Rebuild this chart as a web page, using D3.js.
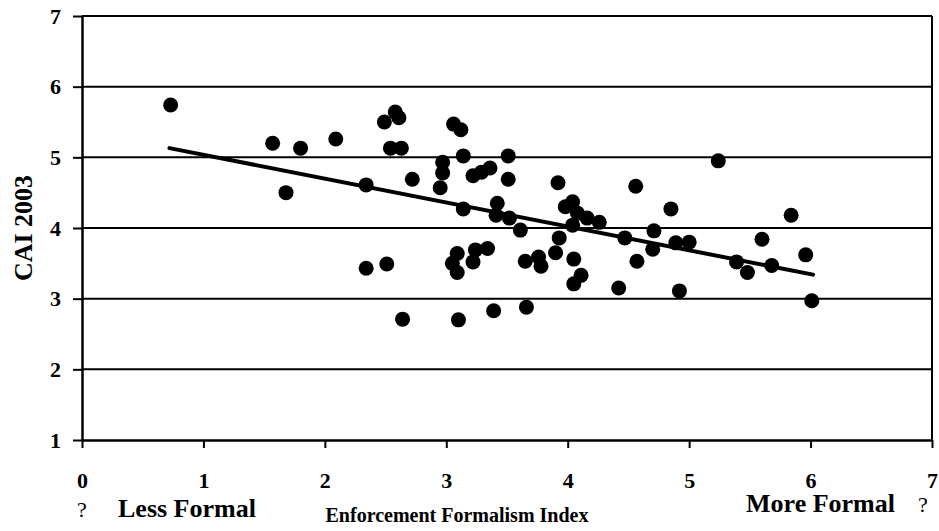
<!DOCTYPE html>
<html lang="en">
<head>
    <meta charset="UTF-8">
    <title>CAI 2003 vs Enforcement Formalism Index</title>
    <script src="https://d3js.org/d3.v7.min.js"></script>
    <style>
        body { margin: 0; background: white; }
        svg text {
            font-family: "Liberation Serif", "Times New Roman", serif;
            font-weight: bold;
            fill: black;
        }
        .tick-label { font-size: 22px; }
        .axis-title { font-size: 20px; }
        .end-label { font-size: 26px; }
        .y-title { font-size: 26px; }
        .arrow { font-weight: normal !important; font-size: 22px; }
    </style>
</head>
<body>
<svg width="939" height="531"></svg>
<script>
    // Enforcement Formalism Index (x) and CAI 2003 (y)
    const formalism = [
        0.73, 1.57, 1.68, 1.80, 2.09, 2.34, 2.34, 2.49, 2.51, 2.54,
        2.58, 2.61, 2.63, 2.64, 2.72, 2.95, 2.97, 2.97, 3.06, 3.12,
        3.05, 3.09, 3.09, 3.10, 3.14, 3.14, 3.22, 3.24, 3.22, 3.29,
        3.36, 3.34, 3.39, 3.41, 3.42, 3.51, 3.51, 3.52, 3.61, 3.65,
        3.66, 3.76, 3.78, 3.90, 3.92, 3.93, 3.98, 4.04, 4.04, 4.05,
        4.05, 4.08, 4.11, 4.16, 4.26, 4.42, 4.47, 4.56, 4.57, 4.70,
        4.71, 4.85, 4.89, 4.92, 5.00, 5.24, 5.39, 5.48, 5.60, 5.68,
        5.84, 5.96, 6.01
    ];
    const cai = [
        5.74, 5.20, 4.50, 5.13, 5.26, 4.61, 3.43, 5.50, 3.49, 5.13,
        5.64, 5.56, 5.13, 2.71, 4.69, 4.57, 4.93, 4.78, 5.47, 5.39,
        3.50, 3.64, 3.37, 2.70, 5.02, 4.27, 4.74, 3.69, 3.52, 4.79,
        4.85, 3.71, 2.83, 4.18, 4.35, 5.02, 4.69, 4.14, 3.97, 3.53,
        2.88, 3.59, 3.46, 3.65, 4.64, 3.86, 4.30, 4.37, 4.04, 3.56,
        3.21, 4.21, 3.33, 4.14, 4.08, 3.15, 3.86, 4.59, 3.53, 3.70,
        3.96, 4.27, 3.79, 3.11, 3.80, 4.95, 3.52, 3.37, 3.84, 3.47,
        4.18, 3.62, 2.97
    ];
    // fitted trend line end points
    const trendX = [0.72, 6.02];
    const trendY = [5.13, 3.34];

    const xTicks = [0, 1, 2, 3, 4, 5, 6, 7];
    const yTicks = [1, 2, 3, 4, 5, 6, 7];

    const svg = d3.select("svg");

    const x = d3.scaleLinear().domain([0, 7]).range([82, 932]);
    const y = d3.scaleLinear().domain([1, 7]).range([440, 16]);

    // horizontal gridlines
    svg.append("g")
        .selectAll("line")
        .data(yTicks.filter(d => d > 1))
        .enter().append("line")
        .attr("x1", x(0))
        .attr("x2", x(7))
        .attr("y1", d => y(d))
        .attr("y2", d => y(d))
        .attr("stroke", "black")
        .attr("stroke-width", 2);

    // y axis
    const yAxis = svg.append("g")
        .attr("transform", `translate(${x(0)},0)`)
        .call(d3.axisLeft(y).tickValues(yTicks).tickFormat(d3.format("d"))
            .tickSize(9).tickSizeOuter(0).tickPadding(12));

    // x axis
    const xAxis = svg.append("g")
        .attr("transform", `translate(0,${y(1)})`)
        .call(d3.axisBottom(x).tickValues(xTicks).tickFormat(d3.format("d"))
            .tickSize(8).tickSizeOuter(0).tickPadding(24));

    [yAxis, xAxis].forEach(ax => {
        ax.select(".domain").attr("stroke", "black").attr("stroke-width", 2.5);
        ax.selectAll(".tick line").attr("stroke", "black").attr("stroke-width", 2);
        ax.selectAll(".tick text")
            .attr("class", "tick-label")
            .attr("fill", "black");
    });

    // right border
    svg.append("line")
        .attr("x1", x(7)).attr("x2", x(7))
        .attr("y1", y(7)).attr("y2", y(1))
        .attr("stroke", "black")
        .attr("stroke-width", 2);

    // points
    svg.append("g")
        .selectAll("circle")
        .data(formalism.map((d, i) => [d, cai[i]]))
        .enter().append("circle")
        .attr("cx", d => x(d[0]))
        .attr("cy", d => y(d[1]))
        .attr("r", 7.5)
        .attr("fill", "black");

    // trend line
    svg.append("line")
        .attr("x1", x(trendX[0])).attr("y1", y(trendY[0]))
        .attr("x2", x(trendX[1])).attr("y2", y(trendY[1]))
        .attr("stroke", "black")
        .attr("stroke-width", 4)
        .attr("stroke-linecap", "round");

    // axis titles
    svg.append("text")
        .attr("class", "y-title")
        .attr("transform", "translate(32,228) rotate(-90)")
        .attr("text-anchor", "middle")
        .text("CAI 2003");

    svg.append("text")
        .attr("class", "axis-title")
        .attr("x", 457)
        .attr("y", 522)
        .attr("text-anchor", "middle")
        .text("Enforcement Formalism Index");

    svg.append("text")
        .attr("class", "arrow")
        .attr("x", x(0))
        .attr("y", 517)
        .attr("text-anchor", "middle")
        .text("?");

    svg.append("text")
        .attr("class", "end-label")
        .attr("x", 118)
        .attr("y", 517)
        .text("Less Formal");

    svg.append("text")
        .attr("class", "end-label")
        .attr("x", 895)
        .attr("y", 512)
        .attr("text-anchor", "end")
        .text("More Formal");

    svg.append("text")
        .attr("class", "arrow")
        .attr("x", 923)
        .attr("y", 512)
        .attr("text-anchor", "middle")
        .text("?");
</script>
</body>
</html>
